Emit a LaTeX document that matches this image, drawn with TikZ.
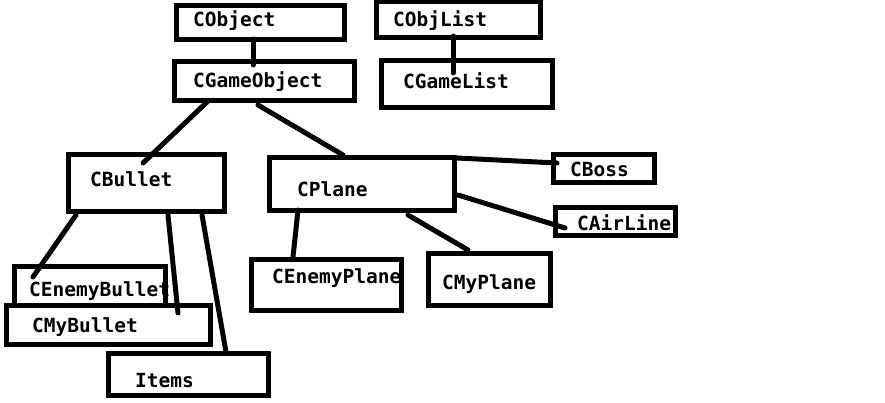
\documentclass[tikz,border=0pt]{standalone}
\usepackage{fontspec}
\newfontfamily\lblfont{DejaVu Sans Mono}
\begin{document}
\begin{tikzpicture}[x=1pt,y=-1pt,
  box/.style={draw=black,line width=5pt,rectangle,inner sep=0pt,outer sep=0pt},
  lbl/.style={anchor=base west,inner sep=0pt,font=\lblfont\bfseries\fontsize{19.5}{20}\selectfont},
  conn/.style={line width=5pt,line cap=round}]
\useasboundingbox[fill=white] (0,0) rectangle (885,403);
% boxes
\node[box,minimum width=168pt,minimum height=34pt] (cobject) at (260.5,22.5) {};
\node[box,minimum width=180pt,minimum height=39pt] (cgameobject) at (264.5,81) {};
\node[box,minimum width=164pt,minimum height=35.5pt] (cobjlist) at (458.5,19.75) {};
\node[box,minimum width=171pt,minimum height=47pt] (cgamelist) at (467,84) {};
\node[box,minimum width=156pt,minimum height=57pt] (cbullet) at (146.5,183) {};
\node[box,minimum width=151pt,minimum height=39pt] (cenemybullet) at (90,286) {};
\node[box,minimum width=204pt,minimum height=39pt] (cmybullet) at (108.5,325) {};
\node[box,minimum width=160pt,minimum height=42pt] (items) at (188.5,374.5) {};
\node[box,minimum width=185pt,minimum height=53pt] (cplane) at (362,184) {};
\node[box,minimum width=101pt,minimum height=28pt] (cboss) at (604,168.5) {};
\node[box,minimum width=120pt,minimum height=28pt] (cairline) at (615.5,221.5) {};
\node[box,minimum width=150pt,minimum height=51pt] (cenemyplane) at (326.5,285) {};
\node[box,minimum width=122pt,minimum height=52pt] (cmyplane) at (489.5,279.5) {};
% connectors
\draw[conn] ([shift={(-7.5,16.5)}]cobject.center) -- ([shift={(-11.5,-16)}]cgameobject.center);
\draw[conn] ([shift={(-57.5,21)}]cgameobject.center) -- ([shift={(-3.5,-20)}]cbullet.center);
\draw[conn] ([shift={(-6.5,24)}]cgameobject.center) -- ([shift={(-19,-29)}]cplane.center);
\draw[conn] ([shift={(-5.5,16.25)}]cobjlist.center) -- ([shift={(-14,-11)}]cgamelist.center);
\draw[conn] ([shift={(-70.5,32)}]cbullet.center) -- ([shift={(-57,-9)}]cenemybullet.center);
\draw[conn] ([shift={(21.5,32)}]cbullet.center) -- ([shift={(69.5,-12)}]cmybullet.center);
\draw[conn] ([shift={(55.5,32)}]cbullet.center) -- ([shift={(37.5,-22.5)}]items.center);
\draw[conn] ([shift={(95,-26)}]cplane.center) -- ([shift={(-47,-5.5)}]cboss.center);
\draw[conn] ([shift={(96,11)}]cplane.center) -- ([shift={(-50.5,6.5)}]cairline.center);
\draw[conn] ([shift={(-64,26)}]cplane.center) -- ([shift={(-33.5,-28)}]cenemyplane.center);
\draw[conn] ([shift={(46,31)}]cplane.center) -- ([shift={(-21.5,-29.5)}]cmyplane.center);
% labels
\node[lbl] (cobject-t) at (193,27) {CObject};
\node[lbl] (cgameobject-t) at (193,88) {CGameObject};
\node[lbl] (cobjlist-t) at (393,27) {CObjList};
\node[lbl] (cgamelist-t) at (403,89) {CGameList};
\node[lbl] (cbullet-t) at (90,187) {CBullet};
\node[lbl] (cenemybullet-t) at (29,296) {CEnemyBullet};
\node[lbl] (cmybullet-t) at (32,332) {CMyBullet};
\node[lbl] (items-t) at (135,387) {Items};
\node[lbl] (cplane-t) at (297,197) {CPlane};
\node[lbl] (cboss-t) at (570,177) {CBoss};
\node[lbl] (cairline-t) at (577,231) {CAirLine};
\node[lbl] (cenemyplane-t) at (272,283) {CEnemyPlane};
\node[lbl] (cmyplane-t) at (442,289) {CMyPlane};
\end{tikzpicture}
\end{document}
